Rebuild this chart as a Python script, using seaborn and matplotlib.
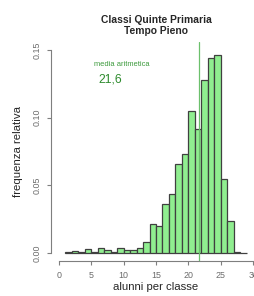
import numpy as np
import pandas as pd
import seaborn as sns
import matplotlib
matplotlib.use("Agg")
import matplotlib.pyplot as plt

# Data (class size -> relative frequency)
bin_left = [1, 2, 3, 4, 5, 6, 7, 8, 9, 10, 11, 12, 13, 14, 15, 16, 17, 18, 19, 20,
            21, 22, 23, 24, 25, 26, 27, 28]
rel_freq = [0.0007, 0.0017, 0.0005, 0.0027, 0.0004, 0.0040, 0.0020, 0.0005, 0.0040, 0.0020,
            0.0020, 0.0040, 0.0084, 0.0215, 0.0203, 0.0364, 0.0433, 0.0656, 0.0731, 0.1048,
            0.0916, 0.1276, 0.1442, 0.1461, 0.0550, 0.0235, 0.0005, 0.0]
mean_value = 21.6
mean_label = "21,6"
title = "Classi Quinte Primaria\nTempo Pieno"
xlabel = "alunni per classe"
ylabel = "frequenza relativa"
xticks = [0, 5, 10, 15, 20, 25, 30]
yticks = [0.00, 0.05, 0.10, 0.15]
ytick_labels = ["0.00", "0.05", "0.10", "0.15"]

sns.set_style("white")
plt.rcParams['font.family'] = ['Liberation Sans', 'DejaVu Sans']

df = pd.DataFrame({"mid": np.array(bin_left) + 0.5, "f": rel_freq})
edges = list(bin_left) + [bin_left[-1] + 1]

fig = plt.figure(figsize=(2.55, 2.96), dpi=100)
ax = fig.add_axes([0.2, 0.118, 0.8235, 0.740])

sns.histplot(data=df, x="mid", weights="f", bins=edges, stat="count",
             color="#90EE90", alpha=1.0, edgecolor="#404040", linewidth=0.9, ax=ax)

ax.axvline(mean_value, color="#6cc06c", linewidth=0.9)

ax.set_xlim(-1.2, 31.2)
ax.set_ylim(-0.006, 0.156)

for s in ["top", "right"]:
    ax.spines[s].set_visible(False)
ax.spines["left"].set_bounds(0, 0.15)
ax.spines["bottom"].set_bounds(0, 30)
ax.spines["left"].set_color("#7f7f7f")
ax.spines["bottom"].set_color("#7f7f7f")
ax.spines["left"].set_linewidth(0.8)
ax.spines["bottom"].set_linewidth(0.8)

ax.set_xticks(xticks)
ax.set_xticklabels([str(t) for t in xticks])
ax.set_yticks(yticks)
ax.set_yticklabels(ytick_labels, rotation=90, va="center")
ax.tick_params(axis="both", which="both", direction="out", length=3, width=0.8,
               color="#7f7f7f", labelcolor="#6b6b6b", labelsize=6.4, pad=4,
               bottom=True, left=True)

ax.set_xlabel(xlabel, fontsize=8.2, labelpad=1.5)
ax.set_ylabel(ylabel, fontsize=8.2, labelpad=7)

fig.text(0.612, 0.948, title, ha="center", va="top", fontsize=7.4,
         fontweight="bold", linespacing=1.1)

ax.text(9.7, 0.1395, "media aritmetica", color="#3c9a3c", fontsize=5.4, ha="center", va="center")
ax.text(7.9, 0.1285, mean_label, color="#2e8b2e", fontsize=8.8, ha="center", va="center")

fig.savefig("out.png", dpi=100)
